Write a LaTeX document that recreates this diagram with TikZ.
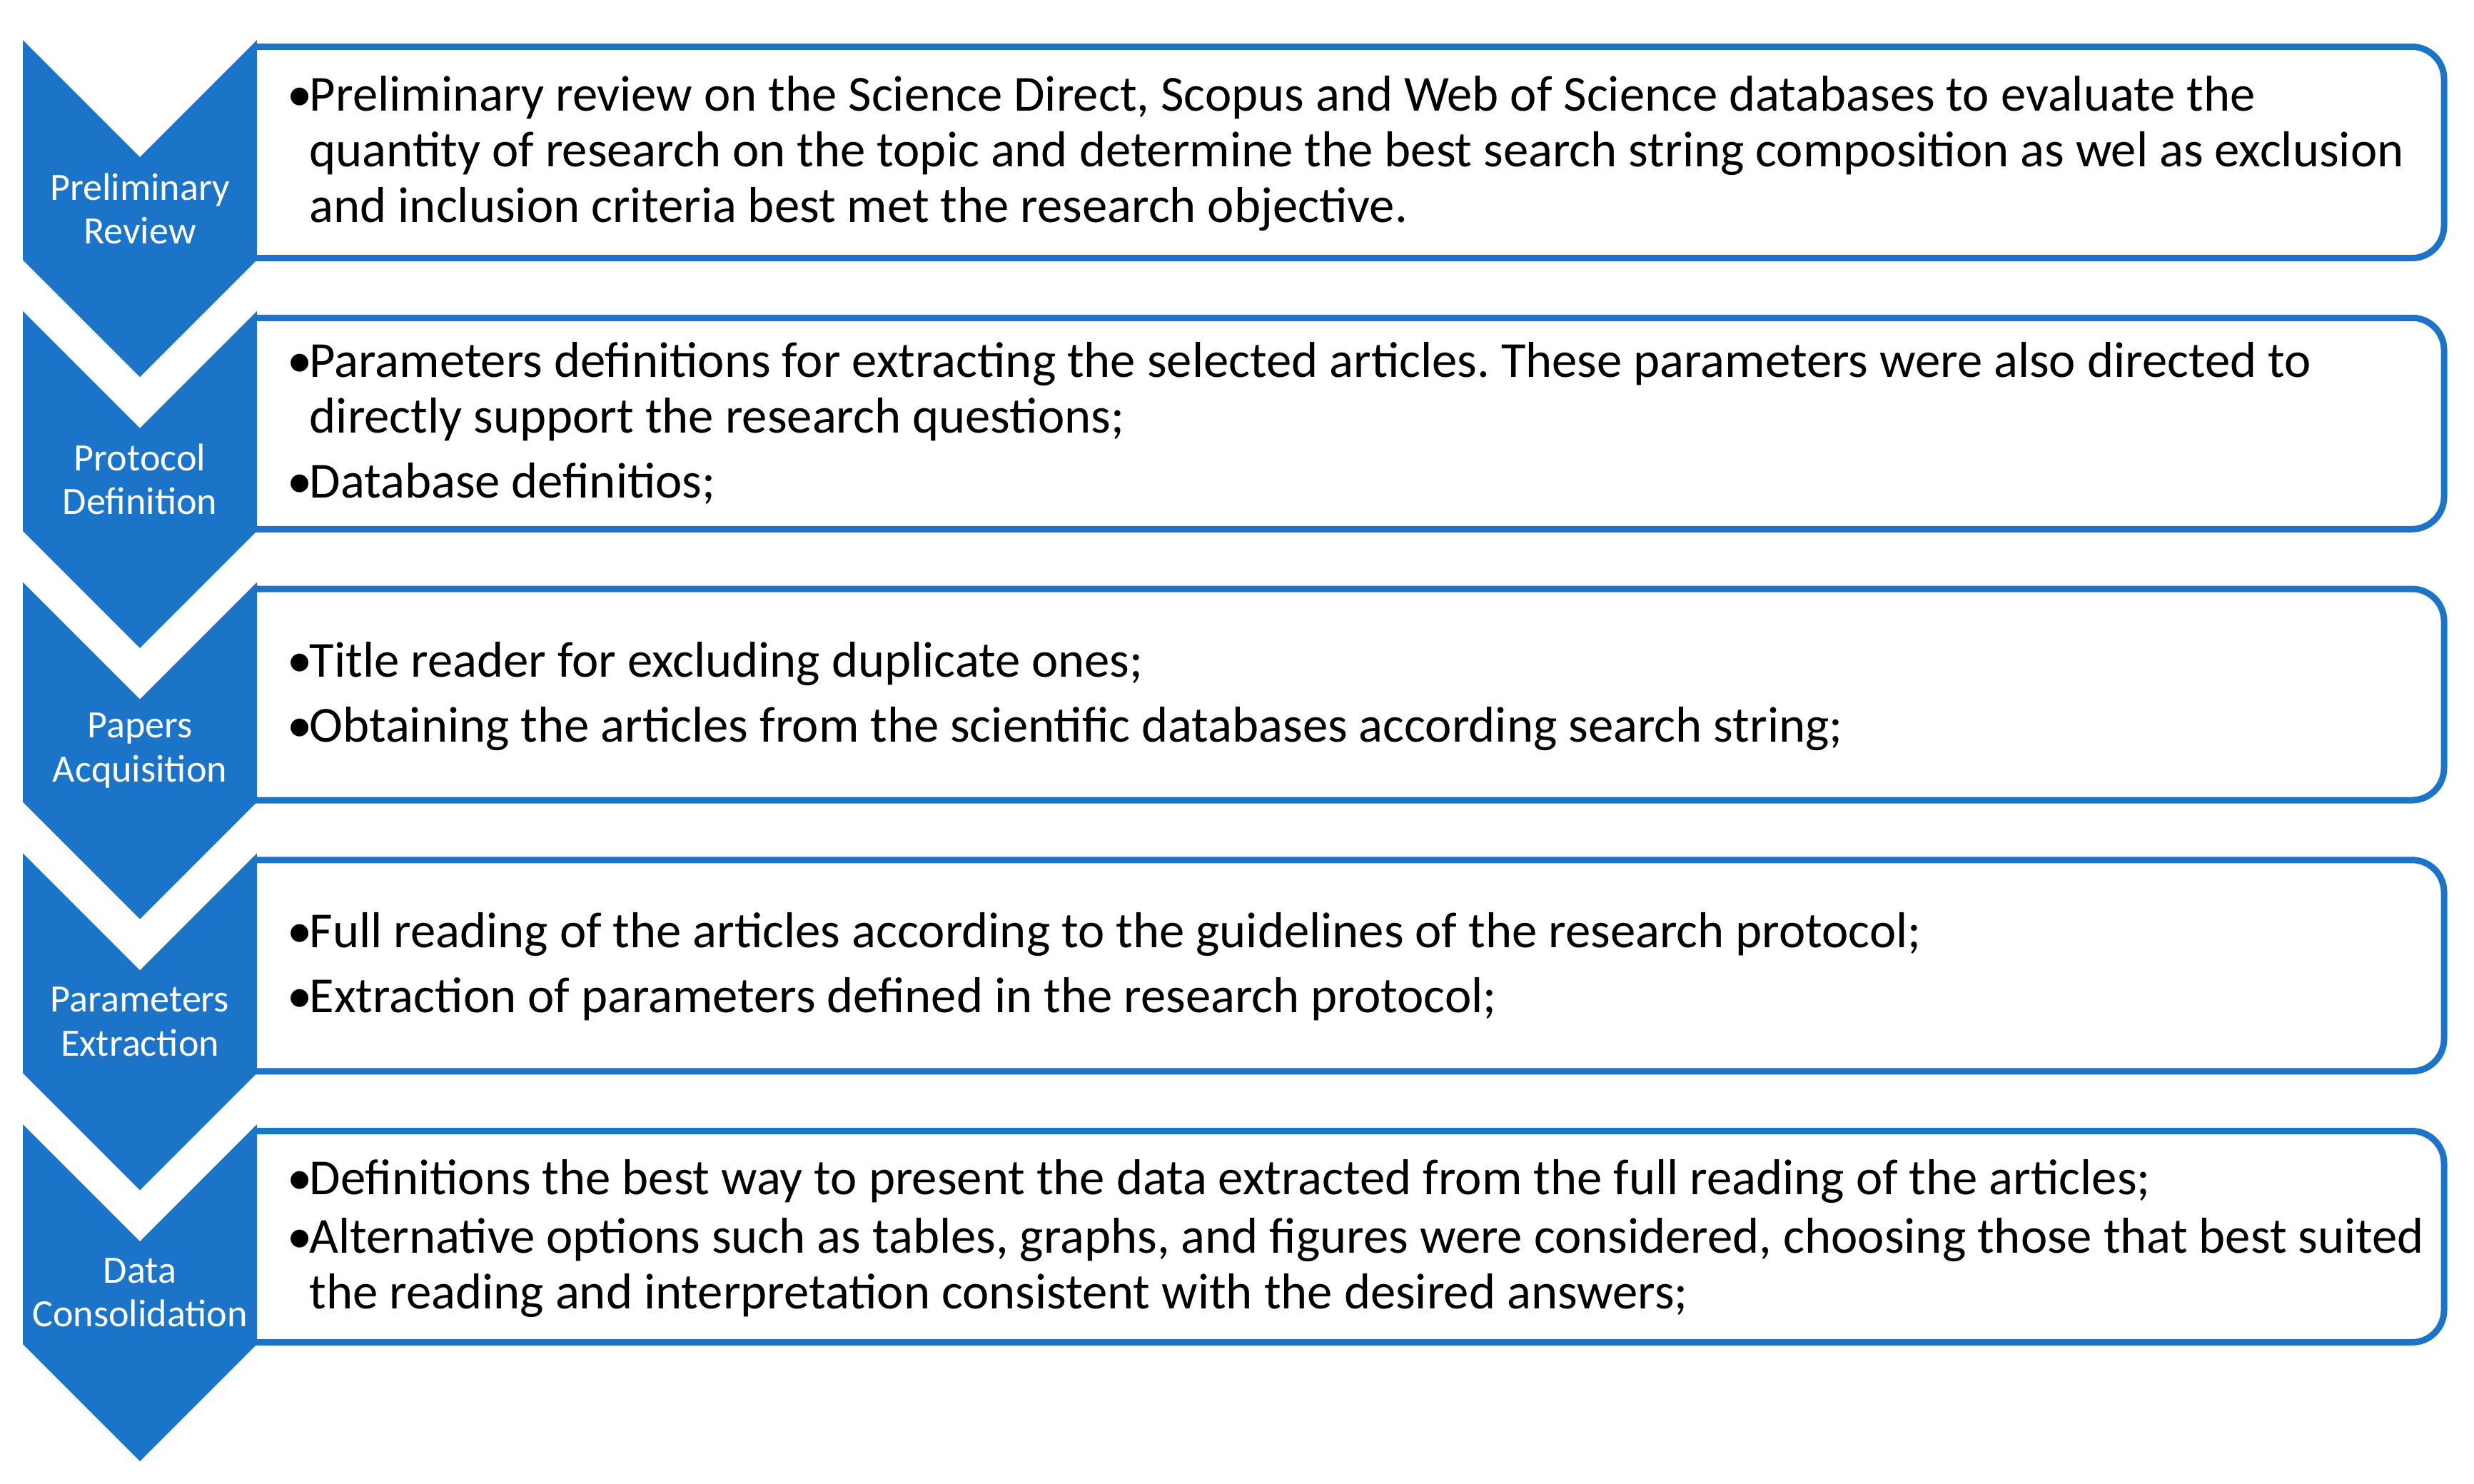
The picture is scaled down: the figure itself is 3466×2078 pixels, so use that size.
\documentclass[tikz,border=0pt]{standalone}
\usepackage{fontspec}
\setmainfont{Carlito}
\frenchspacing
\definecolor{chevblue}{RGB}{27,116,199}
\newlength\pxu
\setlength\pxu{0.01cm}
\newcommand\bul{\makebox[31\pxu][l]{•}}
\newcommand\ind{\hspace*{31\pxu}}
\begin{document}
\begin{tikzpicture}[x=0.01cm,y=-0.01cm,line join=round,
    chev/.style={fill=chevblue},
    boxline/.style={draw=chevblue,line width=9\pxu,rounded corners=45\pxu},
    lab/.style={text=white,align=center,inner sep=0pt,font=\fontsize{15.4}{17.4}\selectfont},
    txt/.style={align=left,anchor=base west,inner sep=0pt,font=\fontsize{20.1}{22.05}\selectfont}]
    \def\dy{379.75}
    \useasboundingbox (0,0) rectangle (3466,2078);
    % boxes, then the chevrons over their left ends
    \foreach \i/\lab in {0/{Preliminary\\Review},1/{Protocol\\Definition},2/{Papers\\Acquisition},
        3/{Parameters\\Extraction},4/{Data\\Consolidation}}{
        \pgfmathsetmacro\t{65.5+\dy*\i}
        \pgfmathsetmacro\b{361.5+\dy*\i}
        \pgfmathsetmacro\y{56+\dy*\i}
        \draw[boxline] (356,\t) -- (3424,\t) -- (3424,\b) -- (356,\b);
        \fill[chev] (32,\y) -- (196,\y+164) -- (360,\y) -- (360,\y+308) -- (196,\y+472) -- (32,\y+308) -- cycle;
        \node[lab] (c\i) at (196,\y+236) {\lab};
    }
    % text nodes sit on the baseline of their last line
    \node[txt] (t0) at (402,311) {\bul Preliminary review on the Science Direct, Scopus and Web of Science databases to evaluate the\\
        \ind quantity of research on the topic and determine the best search string composition as wel as exclusion\\
        \ind and inclusion criteria best met the research objective.};
    \node[txt] (t1) at (402,697) {\bul Parameters definitions for extracting the selected articles. These parameters were also directed to\\
        \ind directly support the research questions;\\[13\pxu]
        \bul Database definitios;};
    \node[txt] (t2) at (402,1039) {\bul Title reader for excluding duplicate ones;\\[13\pxu]
        \bul Obtaining the articles from the scientific databases according search string;};
    \node[txt] (t3) at (402,1418) {\bul Full reading of the articles according to the guidelines of the research protocol;\\[13\pxu]
        \bul Extraction of parameters defined in the research protocol;};
    \node[txt] (t4) at (402,1833) {\bul Definitions the best way to present the data extracted from the full reading of the articles;\\[4\pxu]
        \bul Alternative options such as tables, graphs, and figures were considered, choosing those that best suited\\
        \ind the reading and interpretation consistent with the desired answers;};
\end{tikzpicture}
\end{document}
